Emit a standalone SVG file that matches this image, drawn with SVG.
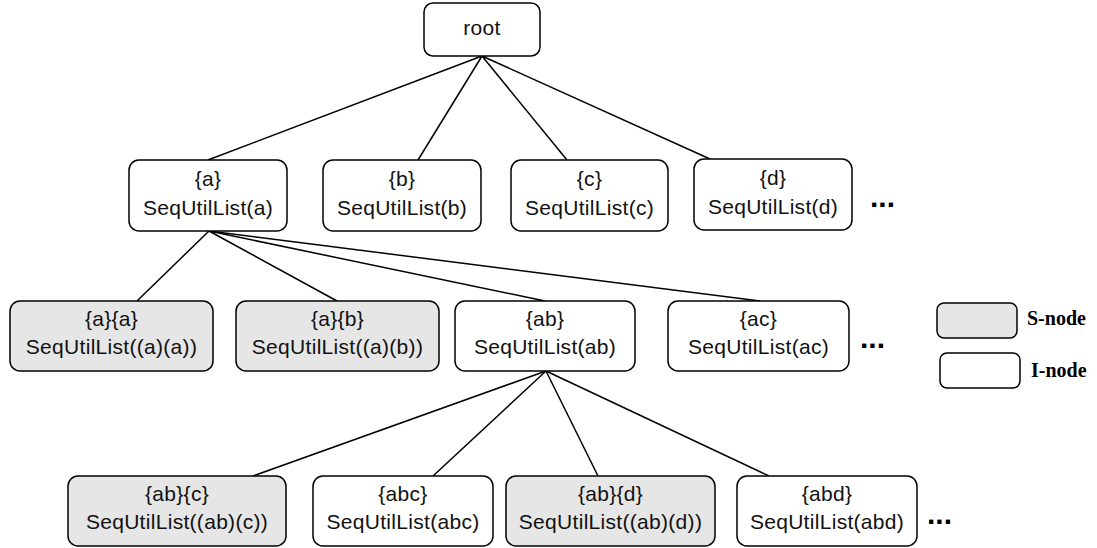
<svg xmlns="http://www.w3.org/2000/svg" width="1097" height="548" viewBox="0 0 1097 548">
<style>
.box{fill:#ffffff;stroke:#000;stroke-width:1.5}
.s{fill:#e6e6e6}
.t{font-family:"Liberation Sans",Arial,sans-serif;font-size:21px;letter-spacing:0.3px;text-anchor:middle;fill:#111}
.dots{font-family:"Liberation Sans",Arial,sans-serif;font-size:30px;font-weight:bold;fill:#000}
.lg{font-family:"Liberation Serif","Times New Roman",serif;font-size:20px;font-weight:bold;fill:#000}
.e line{stroke:#000;stroke-width:1.5}
</style>
<rect width="1097" height="548" fill="#ffffff"/>
<g id="connectors" class="e">
<line x1="482" y1="56" x2="208" y2="160"/>
<line x1="482" y1="56" x2="418" y2="160"/>
<line x1="482" y1="56" x2="567" y2="160"/>
<line x1="482" y1="56" x2="710" y2="159"/>
<line x1="209" y1="231" x2="137" y2="301"/>
<line x1="209" y1="231" x2="337" y2="301"/>
<line x1="209" y1="231" x2="545" y2="301"/>
<line x1="209" y1="231" x2="760" y2="301"/>
<line x1="546" y1="371" x2="253" y2="476"/>
<line x1="546" y1="371" x2="433" y2="476"/>
<line x1="546" y1="371" x2="598" y2="476"/>
<line x1="546" y1="371" x2="769" y2="476"/>
</g>
<g id="root"><rect class="box" x="424" y="3" width="116" height="53" rx="9"/><text class="t" x="482" y="35">root</text></g>
<g id="n_a"><rect class="box" x="129" y="160" width="158" height="71" rx="10"/><text class="t" x="208" y="186">{a}</text><text class="t" x="208" y="215">SeqUtilList(a)</text></g>
<g id="n_b"><rect class="box" x="323" y="160" width="158" height="71" rx="10"/><text class="t" x="402" y="186">{b}</text><text class="t" x="402" y="215">SeqUtilList(b)</text></g>
<g id="n_c"><rect class="box" x="511" y="160" width="157" height="71" rx="10"/><text class="t" x="589.5" y="186">{c}</text><text class="t" x="589.5" y="215">SeqUtilList(c)</text></g>
<g id="n_d"><rect class="box" x="694" y="159" width="158" height="71" rx="10"/><text class="t" x="773" y="185">{d}</text><text class="t" x="773" y="214">SeqUtilList(d)</text></g>
<text class="dots" x="870" y="207">...</text>
<g id="n_aa"><rect class="box s" x="10" y="301" width="203" height="70" rx="10"/><text class="t" x="111.5" y="326">{a}{a}</text><text class="t" x="111.5" y="354">SeqUtilList((a)(a))</text></g>
<g id="n_a_b"><rect class="box s" x="236" y="301" width="203" height="70" rx="10"/><text class="t" x="337.5" y="326">{a}{b}</text><text class="t" x="337.5" y="354">SeqUtilList((a)(b))</text></g>
<g id="n_ab"><rect class="box" x="455" y="301" width="180" height="70" rx="10"/><text class="t" x="545" y="326">{ab}</text><text class="t" x="545" y="354">SeqUtilList(ab)</text></g>
<g id="n_ac"><rect class="box" x="668" y="301" width="181" height="70" rx="10"/><text class="t" x="758.5" y="326">{ac}</text><text class="t" x="758.5" y="354">SeqUtilList(ac)</text></g>
<text class="dots" x="860" y="348">...</text>
<g id="n_ab_c"><rect class="box s" x="68" y="476" width="218" height="70" rx="10"/><text class="t" x="177" y="501">{ab}{c}</text><text class="t" x="177" y="529">SeqUtilList((ab)(c))</text></g>
<g id="n_abc"><rect class="box" x="313" y="476" width="180" height="70" rx="10"/><text class="t" x="403" y="501">{abc}</text><text class="t" x="403" y="529">SeqUtilList(abc)</text></g>
<g id="n_ab_d"><rect class="box s" x="506" y="476" width="209" height="70" rx="10"/><text class="t" x="610.5" y="501">{ab}{d}</text><text class="t" x="610.5" y="529">SeqUtilList((ab)(d))</text></g>
<g id="n_abd"><rect class="box" x="737" y="476" width="180" height="70" rx="10"/><text class="t" x="827" y="501">{abd}</text><text class="t" x="827" y="529">SeqUtilList(abd)</text></g>
<text class="dots" x="927" y="524">...</text>
<g id="legend_s"><rect class="box s" x="937" y="303" width="80" height="35" rx="7"/><text class="lg" x="1027" y="325">S-node</text></g>
<g id="legend_i"><rect class="box" x="940" y="353" width="80" height="35" rx="7"/><text class="lg" x="1031" y="377">I-node</text></g>
</svg>
